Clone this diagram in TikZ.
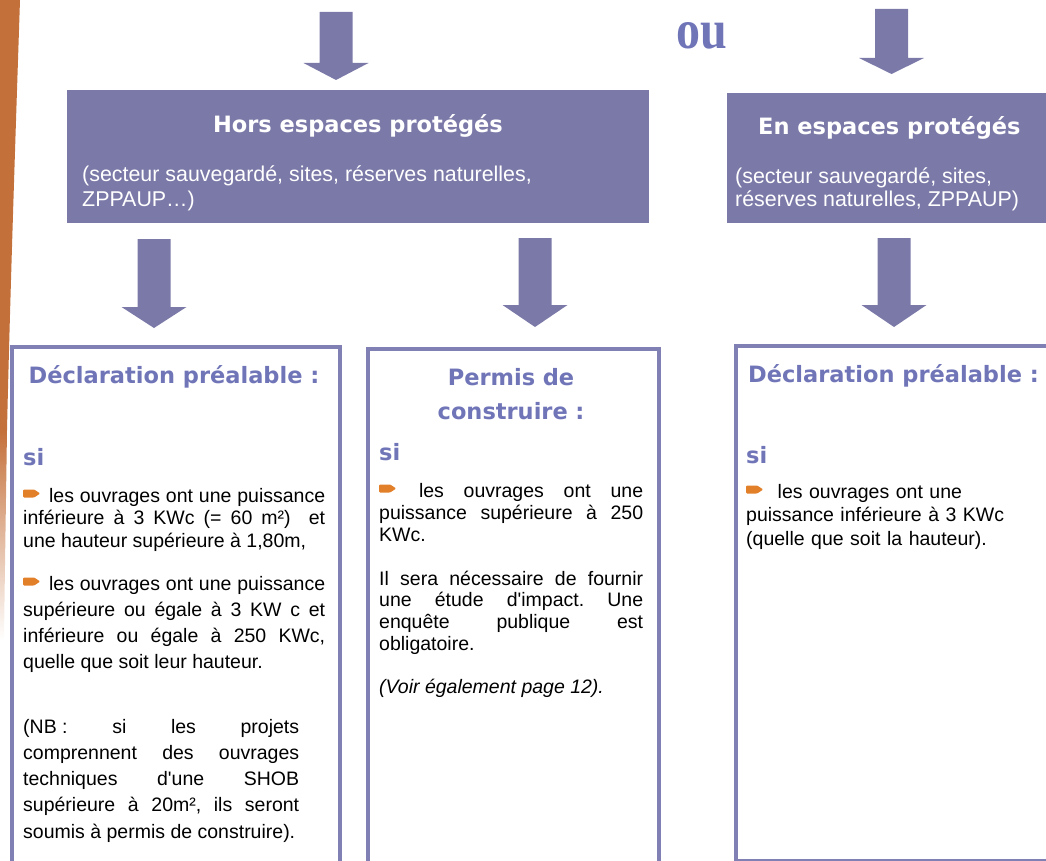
\documentclass[tikz,border=0pt]{standalone}
\usepackage{fontspec}
\setmainfont{Liberation Sans}[Ligatures=TeXOff]
\newfontfamily\titrefont{DejaVu Sans}
\newfontfamily\oufont{Liberation Serif}
\usetikzlibrary{positioning}
\definecolor{violetbloc}{RGB}{123,121,168}
\definecolor{violetcadre}{RGB}{128,128,180}
\definecolor{violettitre}{RGB}{112,117,184}
\definecolor{orangepuce}{RGB}{226,128,42}
\definecolor{orangebord}{RGB}{196,112,58}
\newcommand{\puce}{\tikz[baseline=0pt]\fill[orangepuce, rounded corners=1pt] (0pt,4.5pt) -- (11pt,4.5pt) -- (17pt,8.5pt) -- (11pt,12.5pt) -- (0pt,12.5pt) -- cycle;\hspace{3pt}\ }
\frenchspacing

\begin{document}
\begin{tikzpicture}
  [ x=1pt, y=-1pt,
    bandeau/.style={rectangle, fill=violetbloc, inner sep=0pt, anchor=north west},
    cadre/.style={rectangle, draw=violetcadre, line width=4pt, fill=white, inner sep=0pt, anchor=north west},
    titre/.style={font=\titrefont\bfseries\fontsize{22.5}{34}\selectfont, text=violettitre, inner sep=0pt},
    titreblanc/.style={titre, text=white},
    soustitre/.style={font=\fontsize{21.4}{24.5}\selectfont, text=white, inner sep=0pt, anchor=base west},
    corps/.style={font=\fontsize{19.5}{22.5}\selectfont, inner sep=0pt, anchor=base west, align=justify},
    pics/fleche/.style 2 args={code={
      \fill[violetbloc] (-16.5,0) -- (16.5,0) -- (16.5,#1) -- (32.5,#1) -- (0,{#1+#2}) -- (-32.5,#1) -- (-16.5,#1) -- cycle;
    }}
  ]
  \useasboundingbox (0,0) rectangle (1046,861);
  \clip (0,0) rectangle (1046,861);

  % bord de page
  \fill[orangebord] (0,0) -- (20,0) .. controls (15,150) and (10,300) .. (7,430) -- (0,430) -- cycle;
  \shade[top color=orangebord, bottom color=white]
    (0,430) -- (7,430) .. controls (6,500) and (5,560) .. (4,640) -- (0,640) -- cycle;

  % fleches
  \pic at (336,12) {fleche={51}{17}};
  \pic at (891.5,9) {fleche={49}{16}};
  \pic at (154,239) {fleche={68}{21}};
  \pic at (535,238) {fleche={67}{22}};
  \pic at (894,238) {fleche={67}{22}};

  \node[font=\oufont\bfseries\fontsize{48}{48}\selectfont, text=violettitre, inner sep=0pt, anchor=base west]
    (ou) at (676,49) {\scalebox{1}[1.15]{ou}};

  % bandeaux
  \node[bandeau, minimum width=582pt, minimum height=133pt] (hors) at (67,90) {};
  \node[bandeau, minimum width=340pt, minimum height=130pt] (en) at (727,93) {};

  \node[titreblanc, anchor=base] (horstitre) at (358,133) {Hors espaces protégés};
  \node[soustitre] (horstexte) at (82,182) {(secteur sauvegardé, sites, réserves naturelles,};
  \node[soustitre] (horstexteb) at (82,206.5) {ZPPAUP…)};

  \node[titreblanc, anchor=base west] (entitre) at (758,135) {En espaces protégés};
  \node[soustitre] (entexte) at (735,183) {(secteur sauvegardé, sites,};
  \node[soustitre] (entexteb) at (735,207) {réserves naturelles, ZPPAUP)};

  % cadres
  \node[cadre, minimum width=328pt, minimum height=560pt] (declL) at (10,345) {};
  \node[cadre, minimum width=291pt, minimum height=560pt] (permis) at (366,347) {};
  \node[cadre, minimum width=340pt, minimum height=514.5pt] (declR) at (734,344) {};

  % declaration hors espaces
  \node[titre, anchor=base] (declLtitre) at (174,383) {Déclaration préalable :};
  \node[titre, anchor=base west] (declLsi) at (23,465) {si};
  \node[corps, text width=302pt] (declLa) at (23,502)
    {\puce les ouvrages ont une puissance \linebreak inférieure à 3 KWc (= 60 m²)~ et \linebreak une hauteur supérieure à 1,80m,};
  \node[corps, text width=302pt, font=\fontsize{19.5}{26}\selectfont] (declLb) at (23,590)
    {\puce les ouvrages ont une puissance \linebreak supérieure ou égale à 3 KW c et \linebreak inférieure ou égale à 250 KWc, \linebreak quelle que soit leur hauteur.};
  \node[corps, text width=276pt, font=\fontsize{19.5}{26.3}\selectfont] (declLnb) at (23,733)
    {\mbox{(NB :} si les projets \linebreak comprennent des ouvrages \linebreak techniques d'une SHOB \linebreak supérieure à 20m², ils seront \linebreak soumis à permis de construire).};

  % permis de construire
  \node[titre, anchor=base, text width=280pt, align=center] (permistitre) at (511,385) {Permis de\\construire :};
  \node[titre, anchor=base west] (permissi) at (379,460) {si};
  \node[corps, text width=264pt, font=\fontsize{19.5}{22}\selectfont] (permisa) at (379,497)
    {\puce les ouvrages ont une \linebreak puissance supérieure à 250 \linebreak KWc.};
  \node[corps, text width=264pt, font=\fontsize{19.5}{21.7}\selectfont] (permisb) at (379,585)
    {Il sera nécessaire de fournir \linebreak une étude d'impact. Une \linebreak enquête publique est \linebreak obligatoire.};
  \node[corps, text width=264pt] (permisc) at (379,693) {\textit{(Voir également page 12).}};

  % declaration en espaces
  \node[titre, anchor=base west] (declRtitre) at (748,382) {Déclaration préalable :};
  \node[titre, anchor=base west] (declRsi) at (746,463) {si};
  \node[corps, text width=290pt, align=left, font=\fontsize{19.5}{23.5}\selectfont] (declRa) at (746,498)
    {\puce\hspace{5pt}les ouvrages ont une\\puissance inférieure à 3 KWc\\(quelle que soit la hauteur).};
\end{tikzpicture}
\end{document}
